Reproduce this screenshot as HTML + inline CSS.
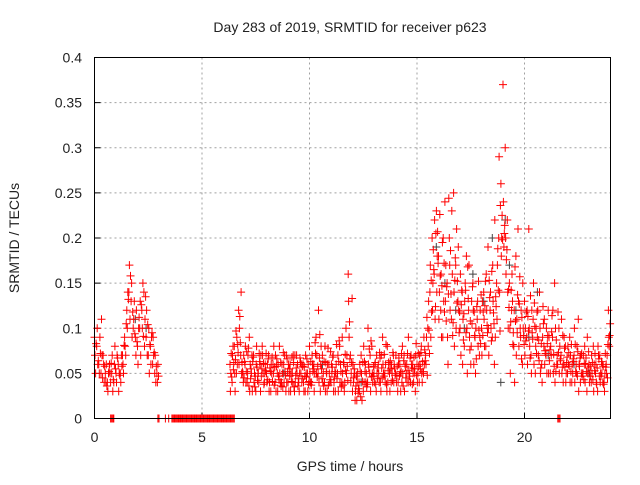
<!DOCTYPE html>
<html><head><meta charset="utf-8"><style>
body{margin:0;background:#fff;width:640px;height:480px;overflow:hidden}
svg text{font-family:"Liberation Sans",sans-serif;font-size:14px;fill:#222}
</style></head><body>
<svg id="chart" width="640" height="480" viewBox="0 0 640 480" xmlns="http://www.w3.org/2000/svg">
<text x="350" y="32" text-anchor="middle">Day 283 of 2019, SRMTID for receiver p623</text>
<text x="350" y="471" text-anchor="middle">GPS time / hours</text>
<text transform="translate(19,238) rotate(-90)" text-anchor="middle">SRMTID / TECUs</text>
<g id="grid"></g><g id="ticks"></g><g id="marks"></g>
<rect x="94.5" y="57.5" width="516" height="361" fill="none" stroke="#000" stroke-width="1"/>
</svg>
<script>
const xTicks=[0,5,10,15,20];
const yTicks=[0,0.05,0.1,0.15,0.2,0.25,0.3,0.35,0.4];
const yTickLabels=["0","0.05","0.1","0.15","0.2","0.25","0.3","0.35","0.4"];
const segAStart=0;
const segA1=[.09,.08,.06,.05,.07,.05,.04,.06,.05,.04,.05,.06,.05,.07,.09,.12,.14,.13,.10,.09,.08,.10,.12,.14,.09,.07,.08,.06,.05,.05];
const segA2=[.07,.10,.05,.11,.06,.04,.03,.05,.07,.06,.04,.03,.04,.06,.08,.10,.17,.15,.11,.07,.06,.13,.10,.08,.12,.10,.06,.09,.07,.04];
const segA3=[.05,.06,.09,.07,.04,.06,.05,.04,.03,.08,.07,.05,.07,.05,.07,.14,.11,.09,.13,.12,.10,.07,.15,.11,.07,.05,.09,.07,.04,.06];
const segA4=[.083,.064,.072,.045,.058,.036,.052,.061,.043,.055,.067,.048,.058,.081,.105,.132,.158,.118,.094,.085,.112,.126,.091,.135,.104,.082,.095,.073,.058,.047];
const segBStart=6.3;
const segB1=[.06,.04,.08,.05,.12,.07,.05,
.06,.04,.09,.05,.07,.03,.05,.06,.08,.04,
.05,.07,.03,.06,.04,.05,.08,.04,.06,.03,
.04,.06,.05,.03,.07,.04,.05,.06,.03,.05,
.08,.04,.06,.09,.05,.03,.07,.04,.05,.06,
.04,.07,.03,.05,.08,.04,.06,.10,.16,.07,
.03,.05,.02,.04,.07,.03,.06,.04,.05,.08,
.05,.03,.06,.04,.09,.05,.03,.06,.04,.07,
.05,.03,.06,.04,.07,.05,.09,.04,.06,.05,
.06,.04,.08,.05,.07,.10,.14,.20,.16,.23,
.18,.12,.09,.24,.15,.20,.11,.25,.17,.13,
.10,.14,.08,.18,.12,.06,.15,.09,.11,.07,
.10,.14,.08,.19,.12,.09,.06,.15,.20,.26,
.37,.30,.22,.15,.12,.08,.18,.21,.10,.06,
.13,.09,.21,.07,.11,.05,.09,.14,.06,.08,
.07,.12,.05,.09,.15,.06,.10,.07,.04,.08,
.05,.09,.04,.07,.06,.11,.04,.05,.08,.03,
.06,.04,.08,.05,.03,.07,.05,.04,.06,.12];
const segB2=[.03,.07,.05,.09,.06,.14,.04,
.08,.05,.03,.07,.04,.06,.05,.03,.07,.05,
.04,.03,.06,.05,.07,.03,.05,.06,.04,.07,
.06,.03,.04,.07,.05,.03,.06,.04,.07,.03,
.05,.07,.03,.05,.12,.06,.04,.08,.03,.05,
.06,.03,.05,.07,.04,.09,.03,.05,.13,.04,
.06,.02,.04,.03,.05,.08,.04,.10,.07,.05,
.04,.07,.05,.03,.06,.04,.08,.05,.06,.04,
.07,.04,.05,.08,.03,.06,.04,.07,.05,.03,
.04,.07,.05,.09,.06,.08,.17,.12,.22,.14,
.11,.16,.20,.13,.09,.17,.23,.14,.10,.19,
.16,.06,.13,.10,.17,.08,.12,.05,.13,.09,
.07,.11,.16,.10,.14,.17,.22,.11,.29,.18,
.24,.20,.14,.10,.16,.12,.07,.13,.09,.15,
.07,.12,.10,.05,.15,.08,.12,.10,.04,.11,
.10,.05,.08,.12,.04,.07,.05,.11,.06,.04,
.08,.04,.06,.10,.05,.03,.07,.05,.04,.09,
.04,.07,.03,.06,.08,.04,.06,.03,.05,.09];
const segB3=[.05,.08,.03,.06,.10,.05,.07,
.04,.07,.06,.03,.05,.08,.04,.07,.05,.06,
.06,.04,.05,.08,.03,.06,.04,.05,.07,.04,
.03,.05,.07,.04,.06,.05,.04,.03,.05,.06,
.04,.06,.05,.07,.04,.08,.05,.03,.06,.04,
.05,.04,.06,.03,.06,.05,.04,.07,.09,.05,
.04,.03,.05,.06,.02,.04,.05,.06,.03,.04,
.06,.05,.04,.07,.05,.06,.04,.03,.05,.06,
.04,.06,.03,.05,.06,.04,.05,.06,.04,.07,
.05,.06,.04,.06,.09,.13,.09,.15,.11,.18,
.14,.09,.13,.17,.06,.12,.16,.08,.21,.12,
.07,.11,.15,.05,.09,.13,.06,.10,.08,.12,
.13,.08,.12,.07,.10,.13,.09,.17,.14,.20,
.19,.16,.10,.05,.13,.04,.11,.08,.12,.10,
.10,.06,.08,.12,.06,.10,.07,.05,.09,.06,
.05,.09,.07,.05,.10,.06,.08,.05,.09,.05,
.06,.07,.05,.04,.08,.06,.05,.07,.06,.05,
.05,.05,.06,.04,.07,.05,.04,.05,.07,.08];
const segB4=[.072,.054,.065,.082,.113,.062,.045,
.052,.078,.044,.063,.035,.057,.072,.047,.061,.053,
.043,.056,.068,.037,.058,.047,.062,.035,.052,.066,
.055,.041,.062,.048,.036,.067,.044,.057,.046,.038,
.063,.052,.084,.046,.067,.055,.036,.062,.078,.043,
.057,.046,.082,.063,.052,.037,.071,.058,.107,.062,
.045,.036,.028,.052,.041,.063,.035,.057,.086,.047,
.062,.044,.073,.056,.047,.082,.053,.064,.042,.056,
.048,.067,.052,.036,.058,.072,.047,.056,.068,.083,
.072,.055,.063,.076,.112,.098,.153,.187,.124,.207,
.226,.147,.172,.108,.138,.186,.092,.153,.128,.095,
.126,.087,.142,.168,.076,.105,.118,.066,.152,.083,
.092,.125,.103,.153,.086,.117,.135,.188,.097,.225,
.205,.176,.143,.107,.082,.168,.095,.127,.066,.092,
.086,.113,.067,.095,.128,.072,.087,.056,.124,.075,
.083,.064,.096,.071,.052,.118,.066,.057,.078,.062,
.073,.052,.066,.082,.047,.058,.072,.043,.067,.056,
.047,.062,.053,.038,.066,.047,.058,.072,.045,.092];
const segB5=[.046,.062,.097,.073,.084,.052,.063,
.074,.036,.055,.068,.047,.042,.063,.055,.038,.072,
.066,.052,.041,.057,.066,.043,.036,.073,.048,.052,
.047,.068,.035,.056,.044,.062,.058,.047,.066,.041,
.037,.055,.072,.058,.093,.044,.063,.052,.037,.074,
.068,.052,.044,.086,.035,.062,.053,.042,.066,.133,
.055,.047,.033,.024,.062,.052,.038,.077,.046,.058,
.038,.056,.067,.045,.071,.038,.062,.055,.073,.048,
.058,.047,.072,.064,.045,.053,.067,.038,.055,.048,
.058,.073,.052,.064,.048,.072,.118,.165,.205,.172,
.158,.195,.118,.146,.244,.138,.106,.178,.152,.118,
.142,.116,.095,.133,.108,.146,.092,.124,.098,.137,
.118,.152,.095,.134,.163,.105,.124,.142,.236,.198,
.214,.187,.123,.142,.095,.108,.137,.157,.112,.082,
.118,.097,.136,.088,.102,.118,.064,.083,.105,.072,
.092,.076,.114,.058,.087,.073,.064,.092,.057,.068,
.058,.082,.063,.052,.074,.067,.047,.061,.052,.074,
.058,.043,.072,.056,.047,.063,.038,.057,.082,.105];
const zeroTimes=[0.75,0.8,0.85,0.9,2.95,3.0,3.3,3.45,3.6,3.65,3.7,3.75,3.8,3.85,3.9,3.95,4.0,4.05,4.1,4.15,4.2,4.25,4.3,4.35,4.4,4.45,4.5,4.55,4.6,4.65,4.7,4.75,4.8,4.85,4.9,4.95,5.0,5.05,5.1,5.15,5.2,5.25,5.3,5.35,5.4,5.45,5.5,5.55,5.6,5.65,5.7,5.75,5.8,5.85,5.9,5.95,6.0,6.05,6.1,6.15,6.2,6.25,6.3,6.35,6.4,6.45,6.5,21.55,21.6,21.65];
const grayTimes=[15.9,16.3,16.8,17.2,17.6,18.1,18.5,18.9,19.1,19.3,19.6,20.2,20.6,21.1,22.3,23.0,12.4,8.8,10.6,1.9,2.4];
const grayValues=[0.19,0.15,0.12,0.1,0.16,0.13,0.2,0.04,0.22,0.17,0.12,0.09,0.14,0.07,0.06,0.05,0.04,0.05,0.06,0.11,0.1];
const X0=94.5,X1=610.5,Y0=418.5,Y1=57.5;
const xs=t=>X0+(t/24)*(X1-X0);
const ys=v=>Y0-(v/0.4)*(Y0-Y1);
const NS="http://www.w3.org/2000/svg";
const grid=document.getElementById('grid'),ticks=document.getElementById('ticks'),marks=document.getElementById('marks');
function mk(tag,attrs,parent){const e=document.createElementNS(NS,tag);for(const k in attrs)e.setAttribute(k,attrs[k]);parent.appendChild(e);return e;}
xTicks.forEach(t=>{
  const x=xs(t);
  if(t>0){const g=mk('line',{x1:x,x2:x,y1:Y1,y2:Y0,stroke:'#a0a0a0','stroke-dasharray':'2,3'},grid);
  
  }
  const l=mk('line',{x1:x,x2:x,y1:Y0,y2:Y0-6,stroke:'#000'},ticks);
  
  
  const tx=mk('text',{x:x,y:442,'text-anchor':'middle'},ticks);tx.textContent=String(t);
  
  
});
yTicks.forEach((v,i)=>{
  const y=ys(v);
  if(v>0&&v<0.4){const g=mk('line',{x1:X0,x2:X1,y1:y,y2:y,stroke:'#a0a0a0','stroke-dasharray':'2,3'},grid);
  
  }
  const l=mk('line',{x1:X0,x2:X0+6,y1:y,y2:y,stroke:'#000'},ticks);
  
  
  const tx=mk('text',{x:82,y:y+5,'text-anchor':'end'},ticks);tx.textContent=yTickLabels[i];
  
  
});
let redD='',grayD='';
function cross(t,v){const x=xs(t),y=ys(v);return `M${(x-4).toFixed(1)} ${y.toFixed(1)}h8M${x.toFixed(1)} ${(y-4).toFixed(1)}v8`;}
[segA1,segA2,segA3,segA4].forEach((a,k)=>a.forEach((v,i)=>{redD+=cross(segAStart+i*0.1+k*0.025,v);}));
[segB1,segB2,segB3,segB4,segB5].forEach((a,k)=>a.forEach((v,i)=>{redD+=cross(segBStart+i*0.1+k*0.02,v);}));
zeroTimes.forEach(t=>{redD+=cross(t,0);});
grayTimes.forEach((t,i)=>{grayD+=cross(t,grayValues[i]);});
const gp=mk('path',{d:grayD,stroke:'#444','stroke-width':1,fill:'none'},marks);


const rp=mk('path',{d:redD,stroke:'#ff0000','stroke-width':1,fill:'none'},marks);


</script>
</body></html>
